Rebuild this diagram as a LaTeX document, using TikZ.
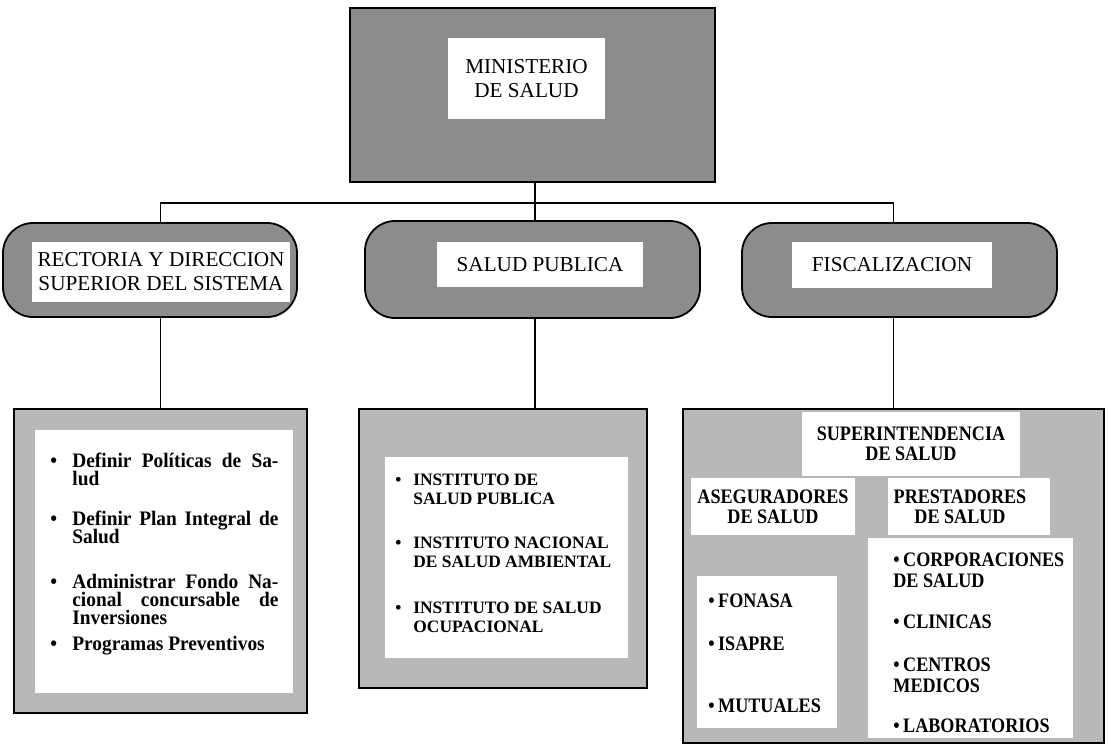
\documentclass[tikz,border=0pt]{standalone}
\usepackage{fontspec}
\setmainfont{Liberation Serif}
\newfontfamily\boxfont[FakeStretch=0.88]{Liberation Serif}
\newfontfamily\polfont[FakeStretch=0.94]{Liberation Serif}
\usetikzlibrary{fit}
\newcommand{\justline}[1]{\makebox[103pt][s]{#1}}
\newcommand{\tightlines}{\lineskiplimit=-20pt\relax}
\tikzstyle{dark_box} = [
    draw=black,
    line width=0.9pt,
    fill=black!45,
    inner sep=0pt
]
\tikzstyle{round_box} = [
    dark_box,
    rounded corners=15pt
]
\tikzstyle{light_box} = [
    draw=black,
    line width=0.8pt,
    fill=black!28,
    inner sep=0pt
]
\tikzstyle{white_box} = [
    fill=white,
    inner sep=0pt
]
\tikzstyle{head_text} = [
    font=\fontsize{10.6}{12}\selectfont,
    align=center,
    inner sep=0pt
]
\tikzstyle{left_item} = [
    font={\polfont\bfseries\fontsize{10.3}{9}\selectfont\tightlines},
    align=left,
    anchor=base west, % base = last line
    inner sep=0pt
]
\tikzstyle{mid_item} = [
    font={\bfseries\fontsize{8.7}{9.5}\selectfont\tightlines},
    align=left,
    anchor=base west,
    inner sep=0pt
]
\tikzstyle{right_head} = [
    font={\boxfont\bfseries\fontsize{10.3}{10}\selectfont\tightlines},
    align=center,
    inner sep=0pt
]
\tikzstyle{right_item} = [
    font={\boxfont\bfseries\fontsize{10.3}{10.5}\selectfont\tightlines},
    align=left,
    anchor=base west,
    inner sep=0pt
]
\tikzstyle{link} = [line width=0.7pt]

\begin{document}
\begin{tikzpicture}[x=0.5pt, y=-0.5pt]
\useasboundingbox (0,0) rectangle (1110,746);

% ministerio
\node [dark_box, fit={(350,8) (715,182)}] (min_box) {};
\node [white_box, fit={(448,38) (605,119)}] (min_white) {};
\node [head_text] (min_text) at (min_white) {MINISTERIO\\DE SALUD};

% funciones
\node [round_box, fit={(3,223) (297,317)}] (rect_box) {};
\node [white_box, fit={(32,242) (290,302)}] (rect_white) {};
\node [head_text] (rect_text) at (rect_white) {RECTORIA Y DIRECCION\\SUPERIOR DEL SISTEMA};

\node [round_box, fit={(365,221) (700,318)}] (sp_box) {};
\node [white_box, fit={(437,242) (643,287)}] (sp_white) {};
\node [head_text] (sp_text) at (sp_white) {SALUD PUBLICA};

\node [round_box, fit={(742,223) (1057,317)}] (fisc_box) {};
\node [white_box, fit={(792,242) (992,288)}] (fisc_white) {};
\node [head_text] (fisc_text) at (fisc_white) {FISCALIZACION};

% rectoria
\node [light_box, fit={(14,409) (307,713)}] (pol_box) {};
\node [white_box, fit={(35,430) (293,693)}] (pol_white) {};
\node [left_item] (dot_a) at (50,467) {\textbullet};
\node [left_item] (pol_a) at (72,485) {\justline{Definir Políticas de Sa-}\\lud};
\node [left_item] (dot_b) at (50,525) {\textbullet};
\node [left_item] (pol_b) at (72,543) {\justline{Definir Plan Integral de}\\Salud};
\node [left_item] (dot_c) at (50,588) {\textbullet};
\node [left_item] (pol_c) at (72,624) {\justline{Administrar Fondo Na-}\\\justline{cional concursable de}\\Inversiones};
\node [left_item] (dot_d) at (50,650) {\textbullet};
\node [left_item] (pol_d) at (72,650) {Programas Preventivos};

% salud publica
\node [light_box, fit={(359,409) (647,688)}] (inst_box) {};
\node [white_box, fit={(385,457) (628,658)}] (inst_white) {};
\node [mid_item] (dot_e) at (395,485) {\textbullet};
\node [mid_item] (inst_a) at (413,504) {INSTITUTO DE\\SALUD PUBLICA};
\node [mid_item] (dot_f) at (395,548) {\textbullet};
\node [mid_item] (inst_b) at (413,567) {INSTITUTO NACIONAL\\DE SALUD AMBIENTAL};
\node [mid_item] (dot_g) at (395,613) {\textbullet};
\node [mid_item] (inst_c) at (413,632) {INSTITUTO DE SALUD\\OCUPACIONAL};

% fiscalizacion
\node [light_box, fit={(683,409) (1104,743)}] (sup_box) {};
\node [white_box, fit={(802,412) (1020,476)}] (sup_white) {};
\node [right_head] (sup_text) at (sup_white) {SUPERINTENDENCIA\\DE SALUD};
\node [white_box, fit={(691,478) (855,535)}] (aseg_white) {};
\node [right_head] (aseg_text) at (aseg_white) {ASEGURADORES\\DE SALUD};
\node [white_box, fit={(888,478) (1050,535)}] (prest_white) {};
\node [right_head] (prest_text) at (960,507) {PRESTADORES\\DE SALUD};
\node [white_box, fit={(697,576) (837,728)}] (aseg_list) {};
\node [right_item] (aseg_a) at (708,607) {\textbullet\,FONASA};
\node [right_item] (aseg_b) at (708,650) {\textbullet\,ISAPRE};
\node [right_item] (aseg_c) at (708,712) {\textbullet\,MUTUALES};
\node [white_box, fit={(868,538) (1073,738)}] (prest_list) {};
\node [right_item] (prest_a) at (893,587) {\textbullet\,CORPORACIONES\\DE SALUD};
\node [right_item] (prest_b) at (893,628) {\textbullet\,CLINICAS};
\node [right_item] (prest_c) at (893,692) {\textbullet\,CENTROS\\MEDICOS};
\node [right_item] (prest_d) at (893,732) {\textbullet\,LABORATORIOS};

% lineas
\coordinate (bus) at (535,203);
\draw [link] (min_box.south -| bus) -- (bus |- sp_box.north);
\draw [link] (pol_box.north |- rect_box.north) |- (bus) -| (sup_box.north |- fisc_box.north);
\draw [link] (pol_box.north |- rect_box.south) -- (pol_box.north);
\draw [link] (bus |- sp_box.south) -- (bus |- inst_box.north);
\draw [link] (sup_box.north |- fisc_box.south) -- (sup_box.north);
\end{tikzpicture}
\end{document}
